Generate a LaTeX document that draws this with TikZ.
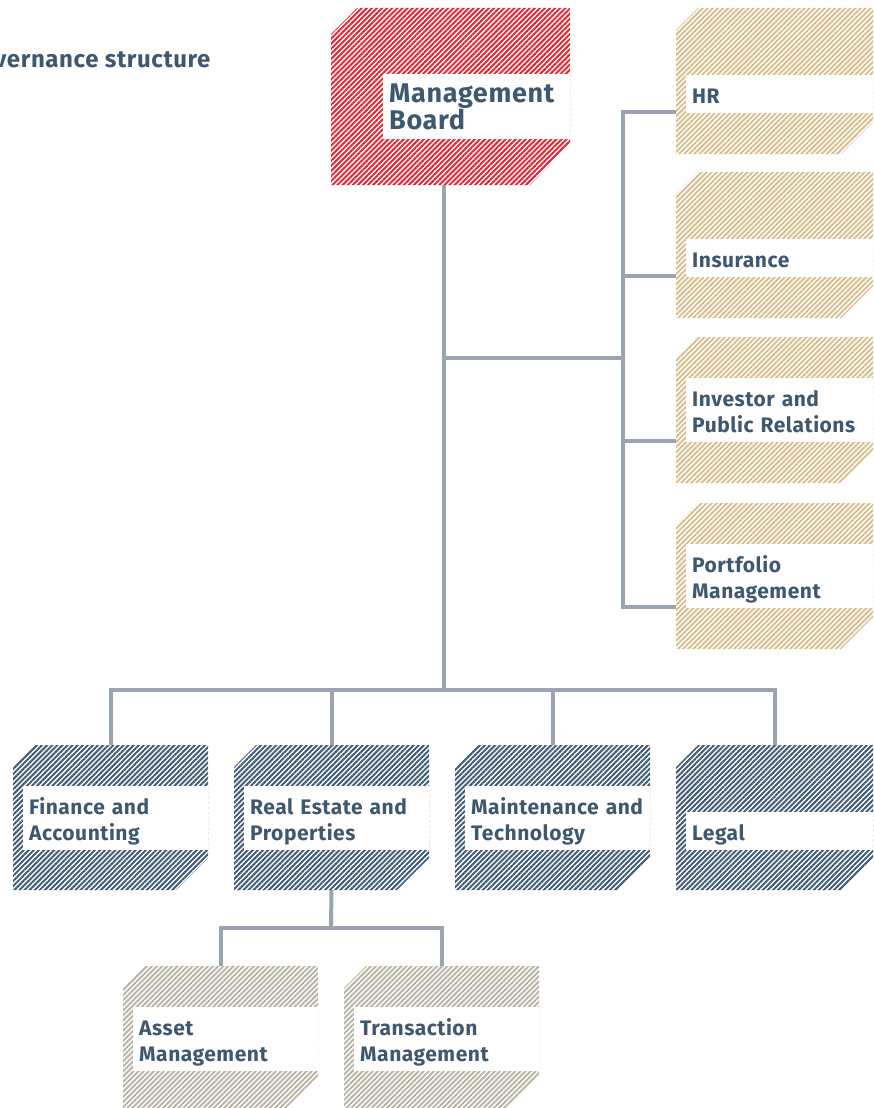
\documentclass[tikz,border=0pt]{standalone}
\usepackage{fontspec}
\setmainfont{Fira Sans}[LetterSpace=2.5]
\usetikzlibrary{patterns.meta}

\definecolor{boardred}{RGB}{226,40,54}
\definecolor{staffsand}{RGB}{214,191,145}
\definecolor{deptslate}{RGB}{66,92,118}
\definecolor{teamstone}{RGB}{184,181,166}
\definecolor{labelblue}{RGB}{62,88,112}
\definecolor{linkgrey}{RGB}{156,164,178}

\tikzset{
  link/.style={linkgrey,line width=4pt},
  hatch/.style={pattern={Lines[angle=45,distance=3.6pt,line width=2pt]},pattern color=#1},
  unitlabel/.style={fill=white,text=labelblue,font=\bfseries\fontsize{21}{26}\selectfont,
    align=left,anchor=south west,inner xsep=6pt,inner ysep=0pt,
    execute at begin node={\rule{0pt}{29pt}},
    execute at end node={\rule[-9pt]{0pt}{9pt}}},
}

% #1 name, #2 x, #3 y, #4 width, #5 height, #6 colour, #7 label
\newcommand{\unitbox}[7]{%
  \fill[hatch=#6]
    (#2,#3+22) -- (#2+22,#3) -- (#2+#4,#3) -- (#2+#4,#3+#5-32)
    -- (#2+#4-32,#3+#5) -- (#2,#3+#5) -- cycle;
  \node[unitlabel,text width=#4pt-22pt] (#1) at (#2+10,#3+105) {#7};
  \coordinate (#1-n) at (#2+#4/2,#3);
  \coordinate (#1-s) at (#2+#4/2,#3+#5);
  \coordinate (#1-w) at (#2,#3+104);
}

\begin{document}
\begin{tikzpicture}[x=1pt,y=-1pt]
\useasboundingbox (0,0) rectangle (873,1108);

\node[anchor=base east,text=labelblue,font=\bfseries\fontsize{24}{28}\selectfont] (title) at (214,67) {Governance structure};

% management board
\fill[hatch=boardred]
  (331,34) -- (357,8) -- (570,8) -- (570,144) -- (530,185) -- (331,185) -- cycle;
\node[unitlabel,font=\bfseries\fontsize{27}{27}\selectfont,text width=175pt,
  execute at end node={\rule[-6pt]{0pt}{6pt}}] (mb) at (383,139) {Management\\Board};
\coordinate (mb-s) at (444,185);

% staff units
\unitbox{hr}{676}{8}{197}{146}{staffsand}{HR}
\unitbox{ins}{676}{172}{197}{146}{staffsand}{Insurance}
\unitbox{ipr}{676}{337}{197}{146}{staffsand}{Investor and\\Public Relations}
\unitbox{pm}{676}{503}{197}{146}{staffsand}{Portfolio\\Management}

% departments
\unitbox{fin}{13}{745}{195}{145}{deptslate}{Finance and\\Accounting}
\unitbox{re}{234}{745}{195}{145}{deptslate}{Real Estate and\\Properties}
\unitbox{mt}{455}{745}{195}{145}{deptslate}{Maintenance and\\Technology}
\unitbox{legal}{676}{745}{197}{145}{deptslate}{Legal}

\unitbox{am}{123}{966}{195}{142}{teamstone}{Asset\\Management}
\unitbox{tm}{344}{966}{195}{142}{teamstone}{Transaction\\Management}

% connectors
\coordinate (jr) at (444,358);
\coordinate (rail) at (623,358);
\coordinate (jb) at (444,690);
\coordinate (js) at (331,928);

\draw[link] (mb-s) -- (jb);
\draw[link] (jr) -- (rail);
\draw[link] (hr-w) -| (rail) |- (pm-w);
\foreach \u in {ins,ipr}
  \draw[link] (\u-w) -- (\u-w -| rail);

\draw[link] (fin-n) |- (jb) -| (legal-n);
\foreach \u in {re,mt}
  \draw[link] (\u-n) -- (\u-n |- jb);

\draw[link] (re-s) -- (js);
\draw[link] (am-n) |- (js) -| (tm-n);

\end{tikzpicture}
\end{document}
